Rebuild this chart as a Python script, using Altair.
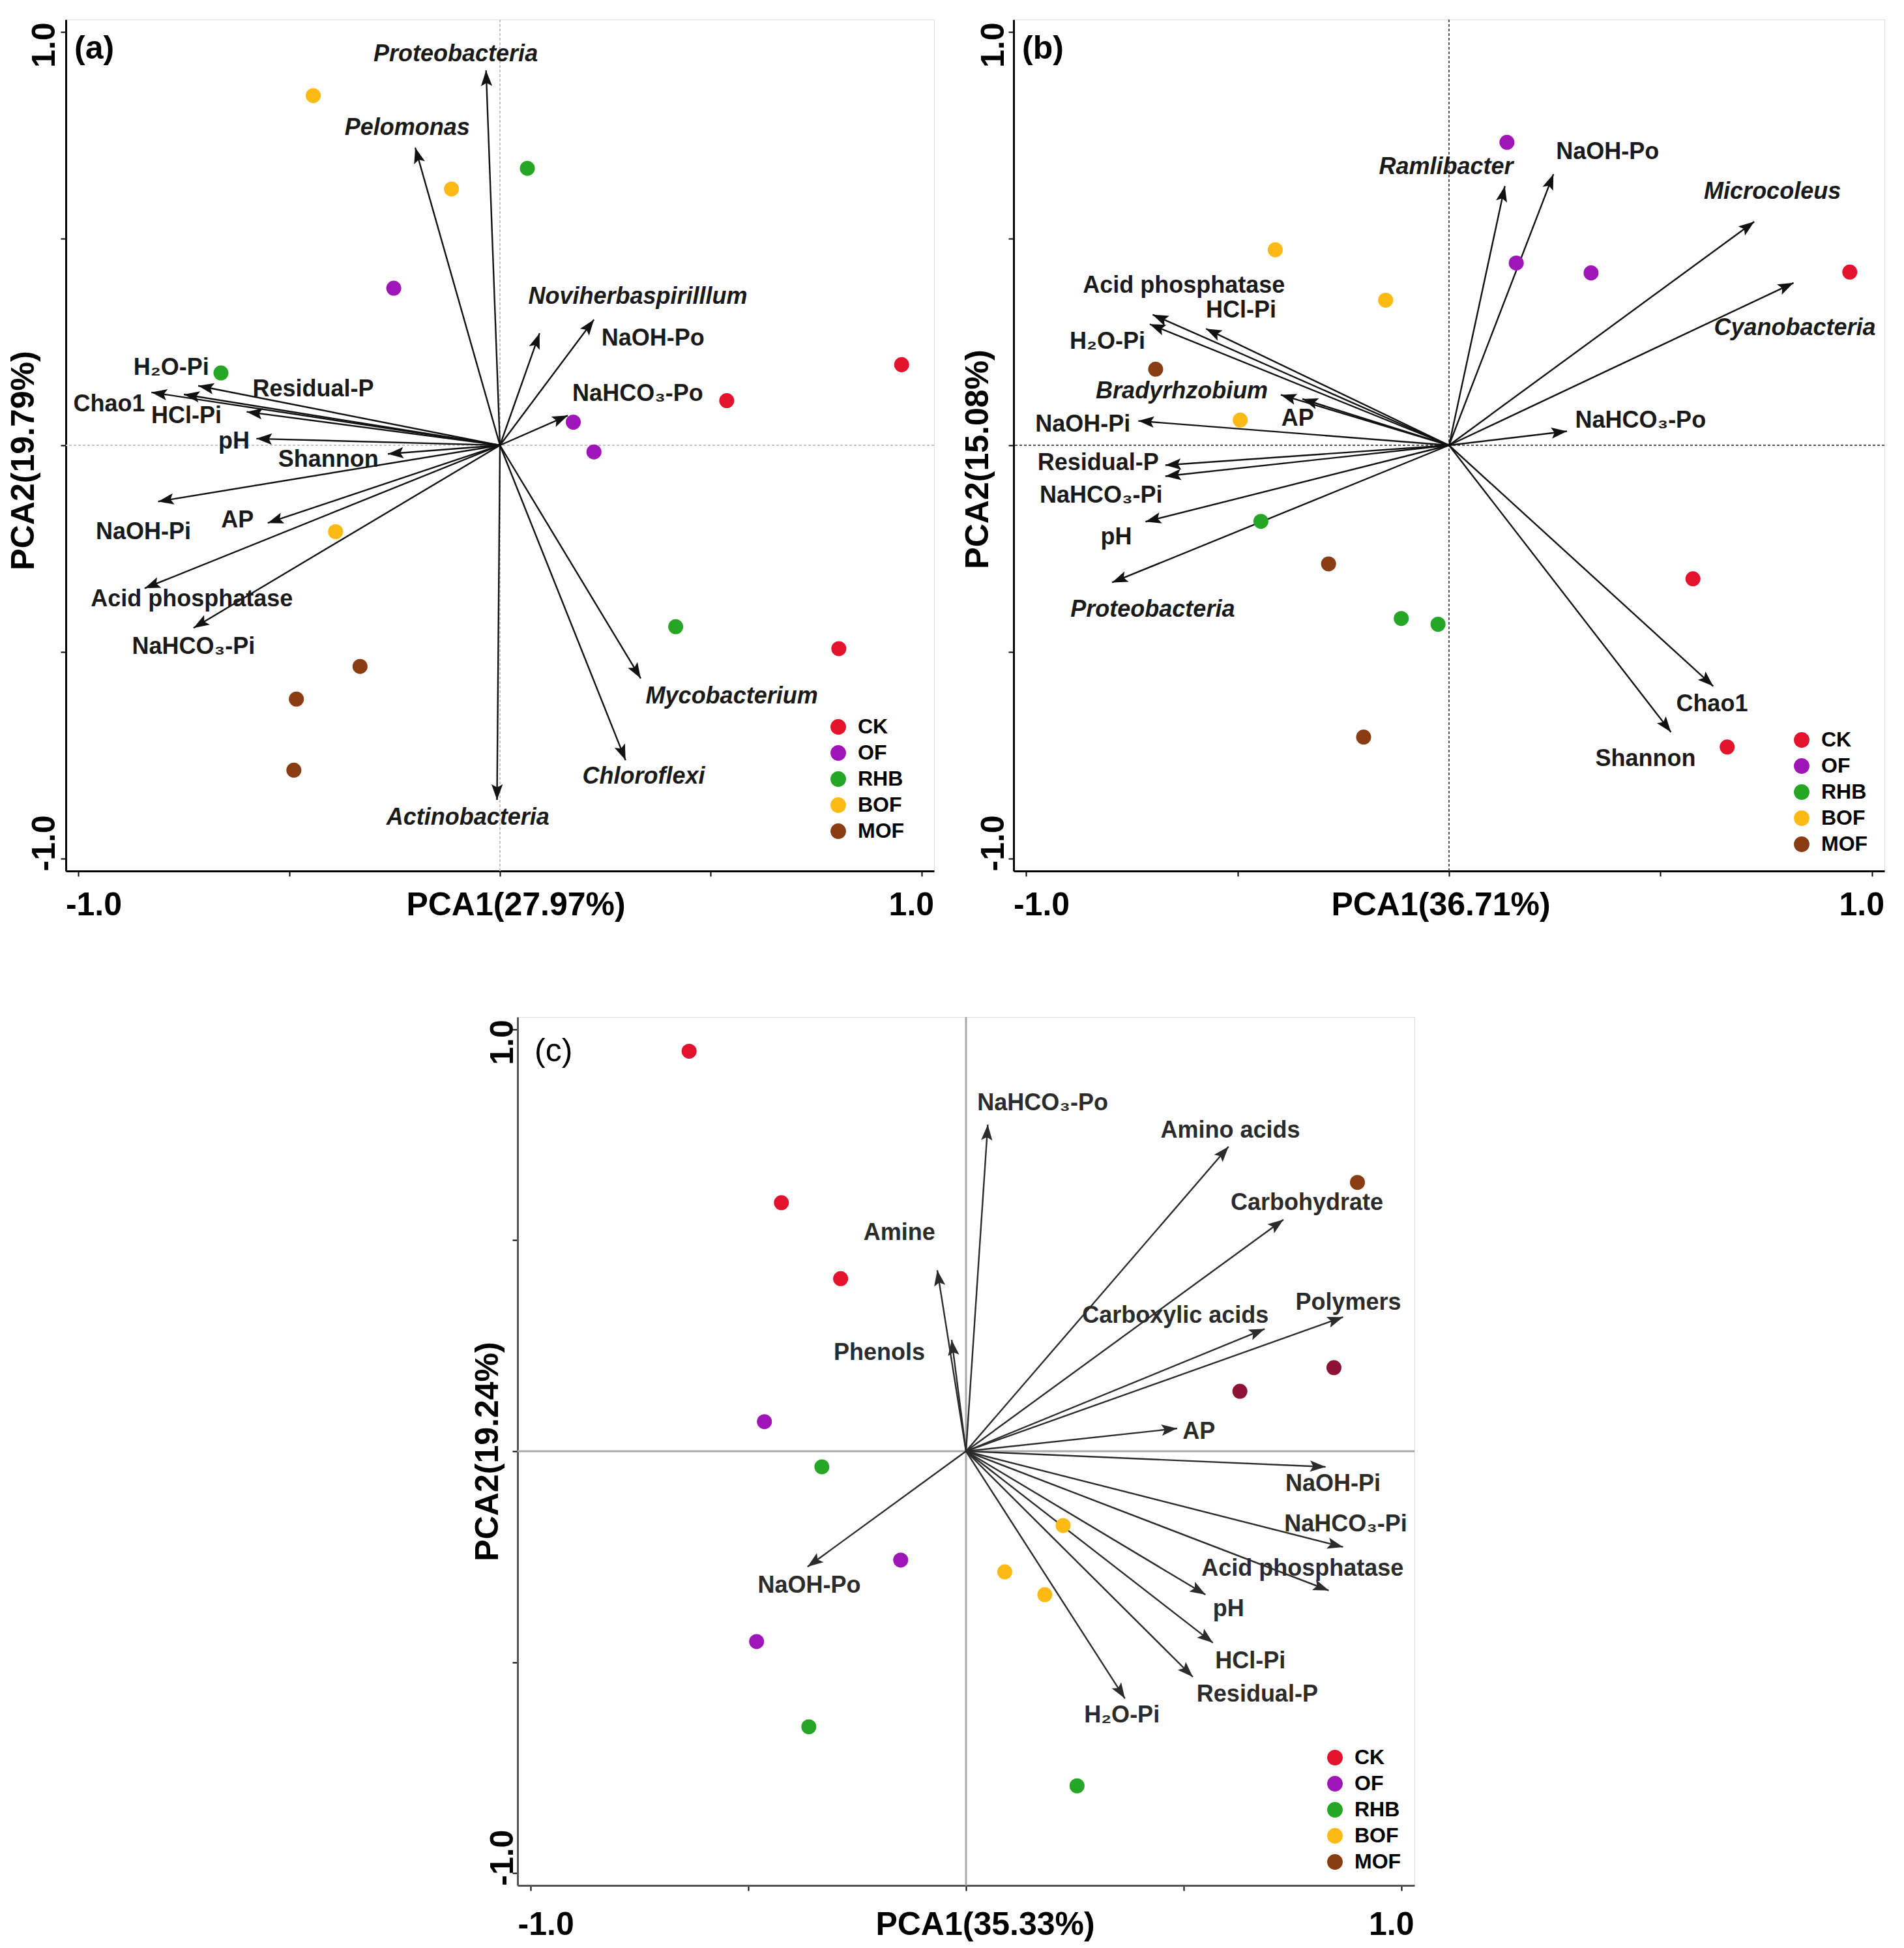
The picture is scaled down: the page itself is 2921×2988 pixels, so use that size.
import altair as alt
import pandas as pd

FONT = "Liberation Sans"
GROUPS = ["CK", "OF", "RHB", "BOF", "MOF"]
GROUP_COLORS = ["#E3132D", "#A015B7", "#25A625", "#FDB914", "#8A3C12"]
DARK_MOF_COLOR = "#8C1333"
TAXA = ["Proteobacteria", "Pelomonas", "Noviherbaspirilllum", "Mycobacterium",
        "Chloroflexi", "Actinobacteria", "Ramlibacter", "Microcoleus",
        "Cyanobacteria", "Bradyrhzobium"]
AX_VALUES = [-1.0, -0.5, 0.0, 0.5, 1.0]

# ---------------- panel (a) ----------------
a_pt_group = ["CK", "CK", "CK", "OF", "OF", "OF", "RHB", "RHB", "RHB",
              "BOF", "BOF", "BOF", "MOF", "MOF", "MOF"]
a_pt_x = [0.953, 0.538, 0.804, -0.252, 0.174, 0.223, 0.065, -0.662, 0.417,
          -0.443, -0.115, -0.390, -0.332, -0.483, -0.489]
a_pt_y = [0.195, 0.108, -0.492, 0.380, 0.056, -0.016, 0.670, 0.175, -0.439,
          0.846, 0.620, -0.209, -0.535, -0.614, -0.786]
a_var = ["Proteobacteria", "Pelomonas", "Noviherbaspirilllum", "NaOH-Po", "NaHCO₃-Po",
         "Mycobacterium", "Chloroflexi", "Actinobacteria", "H₂O-Pi", "Chao1", "HCl-Pi",
         "Residual-P", "pH", "Shannon", "NaOH-Pi", "AP", "Acid phosphatase", "NaHCO₃-Pi"]
a_var_x = [-0.033, -0.201, 0.094, 0.223, 0.161, 0.334, 0.298, -0.007, -0.716, -0.827,
           -0.750, -0.601, -0.578, -0.266, -0.811, -0.551, -0.843, -0.727]
a_var_y = [0.907, 0.720, 0.271, 0.304, 0.072, -0.564, -0.762, -0.858, 0.144, 0.128,
           0.123, 0.081, 0.016, -0.021, -0.136, -0.188, -0.346, -0.442]
a_lab_x = [-0.105, -0.220, 0.327, 0.363, 0.327, 0.550, 0.341, -0.076, -0.780, -0.927,
           -0.744, -0.443, -0.631, -0.407, -0.846, -0.623, -0.731, -0.727]
a_lab_y = [0.947, 0.768, 0.359, 0.258, 0.125, -0.607, -0.801, -0.901, 0.188, 0.099,
           0.071, 0.136, 0.010, -0.034, -0.209, -0.181, -0.373, -0.488]

# ---------------- panel (b) ----------------
b_pt_group = ["CK", "CK", "CK", "OF", "OF", "OF", "RHB", "RHB", "RHB",
              "BOF", "BOF", "BOF", "MOF", "MOF", "MOF"]
b_pt_x = [0.948, 0.577, 0.658, 0.137, 0.159, 0.336, -0.445, -0.113, -0.026,
          -0.411, -0.150, -0.494, -0.694, -0.285, -0.202]
b_pt_y = [0.419, -0.323, -0.730, 0.733, 0.441, 0.417, -0.184, -0.419, -0.433,
          0.473, 0.351, 0.061, 0.184, -0.287, -0.706]
b_var = ["Ramlibacter", "NaOH-Po", "Microcoleus", "Cyanobacteria", "NaHCO₃-Po", "Chao1",
         "Shannon", "Acid phosphatase", "H₂O-Pi", "HCl-Pi", "Bradyrhzobium", "AP",
         "NaOH-Pi", "Residual-P", "NaHCO₃-Pi", "pH", "Proteobacteria"]
b_var_x = [0.132, 0.247, 0.722, 0.815, 0.279, 0.625, 0.525, -0.701, -0.708, -0.575,
           -0.398, -0.347, -0.735, -0.671, -0.671, -0.718, -0.797]
b_var_y = [0.627, 0.656, 0.541, 0.393, 0.034, -0.583, -0.694, 0.316, 0.293, 0.282,
           0.122, 0.112, 0.059, -0.048, -0.075, -0.185, -0.332]
b_lab_x = [-0.007, 0.375, 0.765, 0.818, 0.453, 0.622, 0.465, -0.627, -0.808, -0.492,
           -0.632, -0.358, -0.866, -0.830, -0.823, -0.787, -0.701]
b_lab_y = [0.674, 0.710, 0.614, 0.284, 0.060, -0.626, -0.759, 0.387, 0.251, 0.326,
           0.131, 0.064, 0.050, -0.043, -0.121, -0.223, -0.397]

# ---------------- panel (c) ----------------
c_pt_group = ["CK", "CK", "CK", "OF", "OF", "OF", "RHB", "RHB", "RHB",
              "BOF", "BOF", "BOF", "MOF", "MOF ", "MOF "]
c_pt_x = [-0.636, -0.424, -0.288, -0.463, -0.150, -0.481, -0.331, -0.361, 0.255,
          0.223, 0.089, 0.181, 0.899, 0.629, 0.845]
c_pt_y = [0.948, 0.589, 0.409, 0.070, -0.258, -0.451, -0.037, -0.653, -0.793,
          -0.176, -0.286, -0.340, 0.637, 0.142, 0.198]
c_var = ["NaHCO₃-Po", "Amino acids", "Carbohydrate", "Amine", "Phenols", "Carboxylic acids",
         "Polymers", "AP", "NaOH-Pi", "NaHCO₃-Pi", "Acid phosphatase", "pH", "HCl-Pi",
         "Residual-P", "H₂O-Pi", "NaOH-Po"]
c_var_x = [0.050, 0.603, 0.729, -0.066, -0.033, 0.686, 0.866, 0.485, 0.826, 0.866,
           0.833, 0.550, 0.567, 0.521, 0.365, -0.364]
c_var_y = [0.774, 0.722, 0.549, 0.429, 0.264, 0.290, 0.318, 0.054, -0.037, -0.227,
           -0.330, -0.340, -0.454, -0.535, -0.586, -0.274]
c_lab_x = [0.176, 0.607, 0.783, -0.153, -0.199, 0.481, 0.878, 0.535, 0.843, 0.872,
           0.773, 0.603, 0.653, 0.669, 0.358, -0.360]
c_lab_y = [0.825, 0.760, 0.589, 0.517, 0.234, 0.322, 0.352, 0.047, -0.078, -0.173,
           -0.278, -0.374, -0.497, -0.576, -0.626, -0.319]

ARROW = "M0,0 L-0.36,1 L0,0.8 L0.36,1 Z"


def make_panel(letter, letter_bold, groups, px, py, names, vx, vy, lx, ly,
               xtitle, ytitle, W, H, xdom, ydom, title_dx, title_dy,
               ref_color, ref_dash, ref_width, arrow_color, text_color,
               axis_color, legend_offset, x_lab_pad, y_lab_pad, y_title_x,
               tag_x, tag_y, extra_colors=None):
    pts = pd.DataFrame({"group": groups, "x": px, "y": py})
    arr = pd.DataFrame({"var": names, "x": vx, "y": vy, "lx": lx, "ly": ly})
    arr["italic"] = arr["var"].isin(TAXA)

    cond_align = {"condition": {"test": "datum.value < 0", "value": "left"}, "value": "right"}
    common = dict(values=AX_VALUES, grid=False,
                  labelExpr="datum.value == 1 ? '1.0' : (datum.value == -1 ? '-1.0' : '')",
                  domainColor=axis_color, domainWidth=3, tickColor="black", tickWidth=2,
                  tickSize=8, labelFont=FONT, labelFontWeight="bold", labelFontSize=50,
                  labelColor="black", titleFont=FONT, titleFontWeight="bold",
                  titleFontSize=50, titleColor="black", labelAlign=cond_align)
    xaxis = alt.Axis(title=xtitle, labelAngle=0, labelBaseline="top", labelPadding=x_lab_pad,
                     labelOffset={"condition": {"test": "datum.value < 0", "value": -20}, "value": 19},
                     titleX=W / 2 + title_dx, titleY=8 + x_lab_pad, titleBaseline="top",
                     titleAlign="center", titleAngle=0, **common)
    yaxis = alt.Axis(title=ytitle, labelAngle=270, labelBaseline="alphabetic", labelPadding=y_lab_pad,
                     labelOffset={"condition": {"test": "datum.value < 0", "value": 19}, "value": -15},
                     titleX=y_title_x, titleY=H / 2 + title_dy, titleAngle=270,
                     titleBaseline="alphabetic", titleAlign="center", **common)

    xs = alt.Scale(domain=xdom, nice=False, zero=False)
    ys = alt.Scale(domain=ydom, nice=False, zero=False)

    def X(f):
        return alt.X(f, type="quantitative", scale=xs, axis=xaxis)

    def Y(f):
        return alt.Y(f, type="quantitative", scale=ys, axis=yaxis)

    zero = pd.DataFrame({"v": [0.0]})
    dash = {"strokeDash": ref_dash} if ref_dash else {}
    vline = alt.Chart(zero).mark_rule(color=ref_color, strokeWidth=ref_width, **dash).encode(x=X("v"))
    hline = alt.Chart(zero).mark_rule(color=ref_color, strokeWidth=ref_width, **dash).encode(y=Y("v"))

    base = alt.Chart(arr).transform_calculate(x0="0", y0="0")
    lines = base.mark_rule(color=arrow_color, strokeWidth=2.4).encode(
        x=X("x0"), y=Y("y0"), x2="x:Q", y2="y:Q")
    sx = W / (xdom[1] - xdom[0])
    sy = H / (ydom[1] - ydom[0])
    heads = alt.Chart(arr).transform_calculate(
        ang=f"(atan2(datum.x * {sx}, datum.y * {sy}) * 180 / PI + 360) % 360"
    ).mark_point(shape=ARROW, filled=True, size=2304, color=arrow_color, opacity=1,
                 strokeWidth=0).encode(x=X("x"), y=Y("y"), angle=alt.Angle("ang:Q", scale=None))
    txt_kw = dict(font=FONT, fontWeight="bold", fontSize=36, align="center",
                  baseline="middle", color=text_color)
    labels = alt.Chart(arr).transform_filter("!datum.italic").mark_text(**txt_kw).encode(
        x=X("lx"), y=Y("ly"), text="var:N")
    ilabels = alt.Chart(arr).transform_filter("datum.italic").mark_text(
        fontStyle="italic", **txt_kw).encode(x=X("lx"), y=Y("ly"), text="var:N")

    dom = GROUPS + (["MOF "] if extra_colors else [])
    rng = GROUP_COLORS + (extra_colors or [])
    points = alt.Chart(pts).mark_circle(size=530, opacity=1).encode(
        x=X("x"), y=Y("y"),
        color=alt.Color("group:N", scale=alt.Scale(domain=dom, range=rng),
                        legend=alt.Legend(title=None, orient="bottom-right", offset=legend_offset,
                                          values=GROUPS, labelFont=FONT, labelFontWeight="bold",
                                          labelFontSize=32, labelColor="black", symbolSize=570,
                                          symbolType="circle", symbolStrokeWidth=0,
                                          symbolOpacity=1, rowPadding=8, labelOffset=14)))
    tag = alt.Chart(pd.DataFrame({"t": [letter]})).mark_text(
        font=FONT, fontWeight="bold" if letter_bold else "normal",
        fontSize=50, align="left", baseline="top", color="black"
    ).encode(x=alt.value(tag_x), y=alt.value(tag_y), text="t:N")

    return alt.layer(vline, hline, lines, heads, points, labels, ilabels, tag).properties(
        width=W, height=H)


pa = make_panel("(a)", True, a_pt_group, a_pt_x, a_pt_y, a_var, a_var_x, a_var_y, a_lab_x, a_lab_y,
                "PCA1(27.97%)", "PCA2(19.79%)", 1332, 1306, [-1.03, 1.03], [-1.03, 1.03],
                24, 23, "#c4c4c4", [4, 3], 2, "#111111", "#1a1a1a", "black", 45,
                19, 10, -50, 13, 20)
pb = make_panel("(b)", True, b_pt_group, b_pt_x, b_pt_y, b_var, b_var_x, b_var_y, b_lab_x, b_lab_y,
                "PCA1(36.71%)", "PCA2(15.08%)", 1336, 1306, [-1.03, 1.03], [-1.03, 1.03],
                -13, 21, "#555555", [4, 3], 2, "#111111", "#1a1a1a", "black", 25,
                19, 8, -40, 13, 20)
pc = make_panel("(c)", False, c_pt_group, c_pt_x, c_pt_y, c_var, c_var_x, c_var_y, c_lab_x, c_lab_y,
                "PCA1(35.33%)", "PCA2(19.24%)", 1376, 1332, [-1.03, 1.03], [-1.029, 1.029],
                29, 0, "#a8a8a8", None, 3, "#2b2b2b", "#2b2b2b", "#555555", 20,
                27, 0, -31, 26, 28, extra_colors=[DARK_MOF_COLOR])

spacer = alt.Chart(pd.DataFrame({"v": [0.0]})).mark_point(opacity=0).encode(
    x=alt.X("v:Q", axis=None), y=alt.Y("v:Q", axis=None)
).properties(width=620, height=10, view=alt.ViewBackground(stroke="transparent"))

top = alt.hconcat(pa, pb, spacing=39).resolve_scale(x="independent", y="independent",
                                                     color="independent")
bottom = alt.hconcat(spacer, pc, spacing=0).resolve_scale(x="independent", y="independent",
                                                          color="independent")
chart = alt.vconcat(top, bottom, spacing=144).resolve_scale(
    x="independent", y="independent", color="independent"
).properties(padding={"left": 2, "top": 20, "right": 0, "bottom": 0}).configure_view(
    stroke="black", strokeWidth=3
).configure(background="white")

chart.save("out.html", embed_options={"renderer": "svg", "actions": False})
